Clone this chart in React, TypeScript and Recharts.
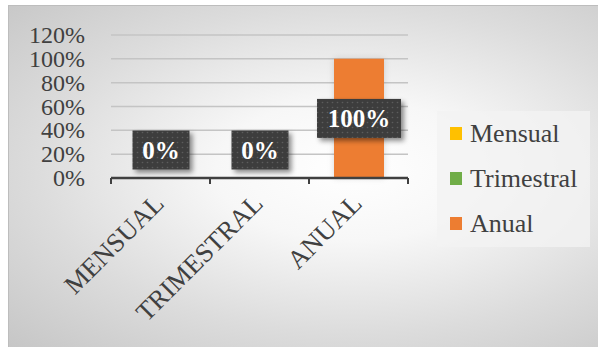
import React from 'react';
import { BarChart, Bar, XAxis, YAxis, CartesianGrid, Cell, LabelList } from 'recharts';

const periods = ['MENSUAL', 'TRIMESTRAL', 'ANUAL'];
const legendNames = ['Mensual', 'Trimestral', 'Anual'];
const shares = [0, 0, 1];
const barColors = ['#FFC000', '#70AD47', '#ED7D31'];
const yTicks = [0, 0.2, 0.4, 0.6, 0.8, 1, 1.2];

const data = periods.map((p, i) => ({ period: p, share: shares[i] }));

const pct = (v: number) => `${Math.round(v * 100)}%`;

const FONT = '"Liberation Serif", "Times New Roman", serif';
const AXIS = '#404040';

const YTick = (props: any) => {
  const { x, y, payload } = props;
  return (
    <text x={x} y={y} dy={8} textAnchor="end" fontFamily={FONT} fontSize={24} fill={AXIS}>
      {pct(payload.value)}
    </text>
  );
};

const XTick = (props: any) => {
  const { x, y, payload, index, visibleTicksCount } = props;
  const half = payload.offset || 0;
  const tx = x + 5;
  const ty = y + 27;
  return (
    <g>
      <line x1={x - half} x2={x - half} y1={y} y2={y + 6} stroke={AXIS} strokeWidth={2} />
      {index === visibleTicksCount - 1 && (
        <line x1={x + half} x2={x + half} y1={y} y2={y + 6} stroke={AXIS} strokeWidth={2} />
      )}
      <text
        x={tx}
        y={ty}
        textAnchor="end"
        transform={`rotate(-45, ${tx}, ${ty})`}
        fontFamily={FONT}
        fontSize={26.5}
        fill={AXIS}
      >
        {payload.value}
      </text>
    </g>
  );
};

const ValueLabel = (props: any) => {
  const { x, y, width, height, value } = props;
  const text = pct(value);
  const w = 30 + text.length * 13.5;
  const h = 39;
  const cx = x + width / 2;
  const cy = Math.min(y + height / 2, 150);
  return (
    <g>
      <rect
        x={cx - w / 2}
        y={cy - h / 2}
        width={w}
        height={h}
        fill="url(#dots)"
        filter="url(#labelShadow)"
      />
      <text
        x={cx}
        y={cy}
        dy={9}
        textAnchor="middle"
        fontFamily={FONT}
        fontWeight="bold"
        fontSize={25}
        fill="#ffffff"
      >
        {text}
      </text>
    </g>
  );
};

const LegendBox = () => (
  <div
    style={{
      position: 'absolute',
      left: 437,
      top: 111,
      width: 153,
      height: 136,
      background: 'rgba(243,243,243,0.8)',
      boxSizing: 'border-box',
    }}
  >
    {legendNames.map((name, i) => (
      <div
        key={name}
        style={{
          display: 'flex',
          alignItems: 'center',
          height: 45,
          paddingLeft: 13,
          fontFamily: FONT,
          fontSize: 26,
          color: AXIS,
        }}
      >
        <span style={{ width: 12, height: 13, background: barColors[i], marginRight: 8, display: 'inline-block' }} />
        {name}
      </div>
    ))}
  </div>
);

export default function App() {
  return (
    <div style={{ position: 'absolute', left: 0, top: 0, width: 598, height: 347, overflow: 'hidden' }}>
      <div
        style={{
          position: 'absolute',
          left: 8,
          top: 5,
          width: 590,
          height: 342,
          borderLeft: '1px solid #bdbdbd',
          borderTop: '1px solid #bdbdbd',
          background: 'radial-gradient(ellipse at 58% 48%, #ffffff 0%, #f7f7f7 28%, #dcdcdc 65%, #c6c6c6 100%)',
        }}
      />
      <div style={{ position: 'absolute', left: 0, top: 0 }}>
        <BarChart width={598} height={347} data={data} margin={{ top: 35, right: 190, bottom: 109, left: 8 }}>
          <defs>
            <pattern id="dots" width="5" height="5" patternUnits="userSpaceOnUse">
              <rect width="5" height="5" fill="#3d3d3d" />
              <circle cx="2.5" cy="2.5" r="0.8" fill="#5c5c5c" />
            </pattern>
            <filter id="labelShadow" x="-20%" y="-20%" width="150%" height="160%">
              <feDropShadow dx="3" dy="3" stdDeviation="2.5" floodColor="#000" floodOpacity="0.45" />
            </filter>
            <filter id="barGlow" x="-30%" y="-10%" width="160%" height="120%">
              <feDropShadow dx="0" dy="0" stdDeviation="3" floodColor="#000" floodOpacity="0.15" />
            </filter>
          </defs>
          <CartesianGrid vertical={false} stroke="#c4c4c4" strokeWidth={1.5} />
          <XAxis
            dataKey="period"
            height={60}
            axisLine={{ stroke: AXIS, strokeWidth: 2.5 }}
            tickLine={false}
            tickSize={0}
            tickMargin={0}
            interval={0}
            tick={<XTick />}
          />
          <YAxis
            width={103}
            domain={[0, 1.2]}
            ticks={yTicks}
            axisLine={false}
            tickLine={false}
            tickSize={0}
            tickMargin={26}
            tick={<YTick />}
          />
          <Bar dataKey="share" barSize={50} minPointSize={1} isAnimationActive={false} filter="url(#barGlow)">
            {data.map((d, i) => (
              <Cell key={d.period} fill={d.share > 0 ? barColors[i] : 'none'} />
            ))}
            <LabelList dataKey="share" content={<ValueLabel />} />
          </Bar>
        </BarChart>
      </div>
      <LegendBox />
    </div>
  );
}
